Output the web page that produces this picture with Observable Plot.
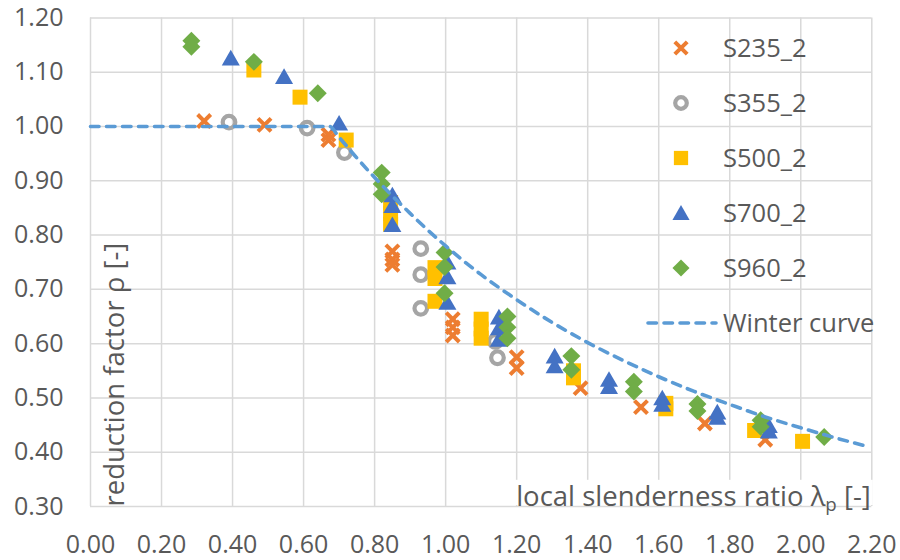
<!DOCTYPE html>
<html>
<head>
<meta charset="utf-8">
<script src="https://cdn.jsdelivr.net/npm/d3@7"></script>
<script src="https://cdn.jsdelivr.net/npm/@observablehq/plot@0.6"></script>
<style>
html, body { margin: 0; padding: 0; background: #fff; }
#wrap { position: relative; width: 900px; height: 560px; font-family: "Open Sans", sans-serif; }
#wrap svg { display: block; }
</style>
</head>
<body>
<div id="wrap"></div>
<script>
// ---- Data ----
const xTicks = [0, 0.2, 0.4, 0.6, 0.8, 1.0, 1.2, 1.4, 1.6, 1.8, 2.0, 2.2];
const yTicks = [0.3, 0.4, 0.5, 0.6, 0.7, 0.8, 0.9, 1.0, 1.1, 1.2];

const s235X = [0.32, 0.49, 0.67, 0.67, 0.85, 0.85, 0.85, 1.02, 1.02, 1.02, 1.20, 1.20, 1.38, 1.55, 1.73, 1.90];
const s235Y = [1.01, 1.003, 0.985, 0.975, 0.77, 0.755, 0.745, 0.645, 0.63, 0.615, 0.575, 0.555, 0.518, 0.483, 0.453, 0.423];

const s355X = [0.39, 0.61, 0.715, 0.93, 0.93, 0.93, 1.14, 1.146];
const s355Y = [1.008, 0.997, 0.952, 0.775, 0.727, 0.665, 0.604, 0.574];

const s500X = [0.46, 0.59, 0.72, 0.845, 0.845, 0.845, 0.97, 0.97, 0.97, 1.10, 1.10, 1.10, 1.36, 1.36, 1.62, 1.62, 1.87, 2.005];
const s500Y = [1.104, 1.054, 0.975, 0.86, 0.84, 0.82, 0.74, 0.72, 0.678, 0.645, 0.627, 0.61, 0.55, 0.537, 0.49, 0.48, 0.44, 0.42];

const s700X = [0.395, 0.545, 0.70, 0.85, 0.85, 0.85, 1.005, 1.005, 1.005, 1.15, 1.15, 1.15, 1.307, 1.307, 1.46, 1.46, 1.61, 1.61, 1.765, 1.765, 1.91, 1.91];
const s700Y = [1.122, 1.088, 1.002, 0.87, 0.85, 0.815, 0.746, 0.719, 0.672, 0.645, 0.625, 0.604, 0.573, 0.555, 0.530, 0.517, 0.496, 0.484, 0.47, 0.46, 0.445, 0.435];

const s960X = [0.284, 0.284, 0.46, 0.64, 0.82, 0.82, 0.82, 0.997, 0.997, 0.997, 1.174, 1.174, 1.174, 1.354, 1.354, 1.53, 1.53, 1.709, 1.709, 1.887, 1.887, 2.066];
const s960Y = [1.158, 1.147, 1.119, 1.061, 0.915, 0.894, 0.875, 0.768, 0.741, 0.693, 0.65, 0.63, 0.61, 0.577, 0.552, 0.53, 0.512, 0.489, 0.476, 0.459, 0.447, 0.428];

const winterX = [0, 0.673, 0.7, 0.75, 0.8, 0.85, 0.9, 0.95, 1.0, 1.1, 1.2, 1.3, 1.4, 1.5, 1.6, 1.7, 1.8, 1.9, 2.0, 2.1, 2.18];
const winterY = [1.0, 1.0, 0.98, 0.942, 0.906, 0.872, 0.84, 0.809, 0.78, 0.727, 0.681, 0.639, 0.602, 0.569, 0.539, 0.512, 0.488, 0.465, 0.445, 0.426, 0.412];

const seriesNames = ["S235_2", "S355_2", "S500_2", "S700_2", "S960_2"];
const curveName = "Winter curve";
const xTitle = "local slenderness ratio λp [-]";
const yTitle = "reduction factor ρ [-]";

// ---- Build tables ----
const toRows = (xs, ys) => xs.map((x, i) => ({x, y: ys[i]}));
const styles = [
  {symbol: "times", r: 6, stroke: "#ED7D31", strokeWidth: 4, fill: "none"},
  {symbol: "circle", r: 6.3, stroke: "#A5A5A5", strokeWidth: 4.2, fill: "none"},
  {symbol: "square", r: 8.46, fill: "#FFC000", stroke: "none"},
  {symbol: "triangle", r: 6.7, fill: "#4472C4", stroke: "none"},
  {symbol: "diamond2", r: 8.1, fill: "#70AD47", stroke: "none"}
];
const seriesData = [
  toRows(s235X, s235Y), toRows(s355X, s355Y), toRows(s500X, s500Y),
  toRows(s700X, s700Y), toRows(s960X, s960Y)
];
const winter = toRows(winterX, winterY);

const textColor = "#595959";
const gridColor = "#d9d9d9";
const curveColor = "#5B9BD5";
const titleSize = 27.5;
const tickSize = 25;

const marks = [
  Plot.ruleX(xTicks, {stroke: gridColor, strokeWidth: 1.5}),
  Plot.ruleY(yTicks, {stroke: gridColor, strokeWidth: 1.5}),
  Plot.axisX(xTicks, {tickSize: 0, tickPadding: 29, tickFormat: d3.format(".2f"), fontSize: tickSize, fill: textColor, label: null}),
  Plot.axisY(yTicks, {tickSize: 0, tickPadding: 27, tickFormat: d3.format(".2f"), fontSize: tickSize, fill: textColor, label: null}),
  Plot.text([yTitle], {text: d => d, frameAnchor: "bottom-left", rotate: -90, textAnchor: "start", lineAnchor: "middle", dx: 25, dy: 0, fontSize: titleSize, fill: textColor}),
  Plot.text([xTitle], {text: d => d, frameAnchor: "bottom-right", textAnchor: "end", lineAnchor: "middle", dx: -1, dy: -9.8, fontSize: titleSize, fill: textColor})
];
seriesData.forEach((rows, i) => {
  marks.push(Plot.dot(rows, {x: "x", y: "y", ...styles[i]}));
});
marks.push(Plot.line(winter, {x: "x", y: "y", stroke: curveColor, strokeWidth: 3.6, strokeDasharray: "8.5,7.5", strokeLinecap: "round", curve: "monotone-x"}));

const chart = Plot.plot({
  width: 900,
  height: 560,
  marginLeft: 90,
  marginRight: 28.7,
  marginTop: 17.4,
  marginBottom: 54,
  style: {fontFamily: "'Open Sans', sans-serif", background: "white", color: textColor},
  x: {domain: [0, 2.2]},
  y: {domain: [0.3, 1.2]},
  marks
});

const wrap = document.getElementById("wrap");
wrap.appendChild(chart);

// Subscript on the x title and white box behind it
d3.select(chart).selectAll("text")
  .filter(function() { return this.textContent === xTitle; })
  .each(function() {
    const t = d3.select(this);
    t.text(null);
    t.append("tspan").text("local slenderness ratio λ");
    t.append("tspan").attr("font-size", "0.68em").attr("dy", "0.28em").text("p");
    t.append("tspan").attr("dy", "-0.19em").text(" [-]");
    const bb = this.getBBox();
    const rect = document.createElementNS("http://www.w3.org/2000/svg", "rect");
    rect.setAttribute("x", bb.x - 3);
    rect.setAttribute("width", bb.width + 5);
    rect.setAttribute("y", bb.y + 0.12 * titleSize);
    rect.setAttribute("height", 0.92 * titleSize);
    rect.setAttribute("fill", "white");
    const tr = this.getAttribute("transform");
    if (tr) rect.setAttribute("transform", tr);
    this.parentNode.insertBefore(rect, this);
  });

// ---- Legend (overlay, transparent) ----
const legendTop = 48, legendStep = 55, symX = 681, labelX = 723, legendFont = 25.5;
const symMap = {times: d3.symbolTimes, circle: d3.symbolCircle, square: d3.symbolSquare, triangle: d3.symbolTriangle, diamond2: d3.symbolDiamond2};
const lg = d3.select(wrap).append("svg")
  .attr("width", 900).attr("height", 560)
  .style("position", "absolute").style("left", "0px").style("top", "0px")
  .style("font-family", "'Open Sans', sans-serif");
seriesNames.forEach((name, i) => {
  const s = styles[i];
  const cy = legendTop + i * legendStep;
  const r = s.symbol === "circle" ? 5.8 : s.r * 0.95;
  lg.append("path")
    .attr("transform", `translate(${symX},${cy + (s.symbol === "triangle" ? 2 : 0)})`)
    .attr("d", d3.symbol(symMap[s.symbol], Math.PI * r * r)())
    .attr("fill", s.fill).attr("stroke", s.stroke).attr("stroke-width", s.strokeWidth || 0);
  lg.append("text").attr("x", labelX).attr("y", cy).attr("dy", "0.36em")
    .attr("font-size", legendFont).attr("fill", textColor).text(name);
});
const wy = legendTop + seriesNames.length * legendStep;
lg.append("line").attr("x1", 648).attr("x2", 716).attr("y1", wy).attr("y2", wy)
  .attr("stroke", curveColor).attr("stroke-width", 3.6).attr("stroke-dasharray", "8.5,7.5").attr("stroke-linecap", "round");
lg.append("text").attr("x", labelX).attr("y", wy).attr("dy", "0.36em")
  .attr("font-size", legendFont).attr("fill", textColor).text(curveName);
</script>
</body>
</html>
